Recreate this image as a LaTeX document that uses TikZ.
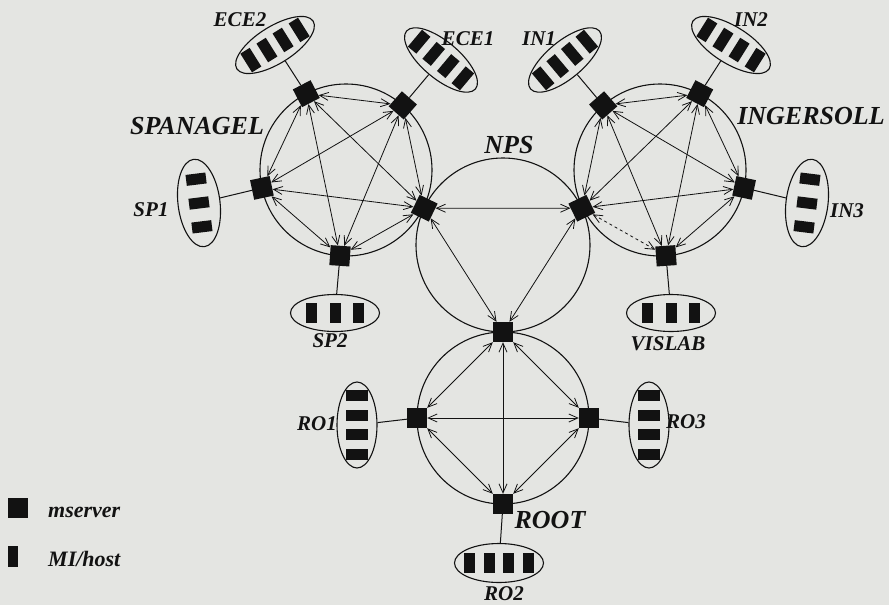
\documentclass[tikz,border=0pt]{standalone}
\usepackage{fontspec}
\setmainfont{Liberation Serif}
\usetikzlibrary{shapes.geometric,arrows.meta}
\definecolor{paper}{RGB}{228,229,226}
\definecolor{ink}{RGB}{18,18,18}
\tikzset{
  ring/.style={draw=ink, line width=1.1pt},
  mserv/.style={rectangle, fill=ink, minimum size=20pt, inner sep=0pt},
  hostring/.style={ellipse, draw=ink, line width=1.1pt, inner sep=0pt},
  hostbar/.style={rectangle, fill=ink, minimum width=10pt, minimum height=21pt, inner sep=0pt},
  link/.style={draw=ink, line width=0.8pt,
    {Straight Barb[length=9pt,width=8pt]}-{Straight Barb[length=9pt,width=8pt]}},
  tie/.style={draw=ink, line width=1pt},
  lbl/.style={font=\fontsize{21}{21}\selectfont\bfseries\itshape, text=ink, inner sep=0pt},
  biglbl/.style={font=\fontsize{26}{26}\selectfont\bfseries\itshape, text=ink, inner sep=0pt},
  leglbl/.style={font=\fontsize{22}{22}\selectfont\bfseries\itshape, text=ink, inner sep=0pt, anchor=base west},
}
% bars of a host group: node, angle, count, spacing, half bar length
\newcommand\hostbars[5]{%
  \begin{scope}[shift={(#1.center)}, rotate=#2]
    \foreach \k in {1,...,#3}
      \fill[ink] ({(\k-(#3+1)/2)*#4},0) +(-5.5pt,-#5) rectangle +(5.5pt,#5);
  \end{scope}}
\begin{document}
\begin{tikzpicture}[x=1pt, y=-1pt]
\fill[paper] (0,0) rectangle (889,605);
\useasboundingbox (0,0) rectangle (889,605);

% domain rings
\draw[ring] (346,170) circle[radius=86pt];
\draw[ring] (660,170) circle[radius=86pt];
\draw[ring] (503,245) circle[radius=87pt];
\draw[ring] (503,418) circle[radius=86pt];

% mservers of SPANAGEL
\node[mserv, rotate=27.5] (e2) at (306.3,93.7) {};
\node[mserv, rotate=-41.3] (e1) at (402.8,105.4) {};
\node[mserv, rotate=12] (sp1) at (261.9,187.9) {};
\node[mserv, rotate=-4] (sp2) at (340,255.8) {};
\node[mserv, rotate=-26] (s1) at (424.2,208.2) {};
% mservers of INGERSOLL
\node[mserv, rotate=-27.5] (in2) at (699.7,93.7) {};
\node[mserv, rotate=41.3] (in1) at (603.2,105.4) {};
\node[mserv, rotate=-12] (in3) at (744.1,187.9) {};
\node[mserv, rotate=4] (vis) at (666,255.8) {};
\node[mserv, rotate=26] (s2) at (581.8,208.2) {};
% mservers of ROOT
\node[mserv] (t) at (503,332) {};
\node[mserv] (l) at (417,418) {};
\node[mserv] (r) at (589,418) {};
\node[mserv] (b) at (503,504) {};

% host groups
\node[hostring, minimum width=90pt, minimum height=37pt, rotate=32] (hece2) at (275,45) {};
\node[hostring, minimum width=90pt, minimum height=37pt, rotate=-40] (hece1) at (441,60) {};
\node[hostring, minimum width=90pt, minimum height=37pt, rotate=40] (hin1) at (565,60) {};
\node[hostring, minimum width=90pt, minimum height=37pt, rotate=-32] (hin2) at (731,45) {};
\node[hostring, minimum width=88pt, minimum height=42pt, rotate=97] (hsp1) at (199,203) {};
\node[hostring, minimum width=88pt, minimum height=42pt, rotate=83] (hin3) at (807,203) {};
\node[hostring, minimum width=89pt, minimum height=37pt] (hsp2) at (335,313) {};
\node[hostring, minimum width=89pt, minimum height=37pt] (hvis) at (671,313) {};
\node[hostring, minimum width=86pt, minimum height=40pt, rotate=90] (hro1) at (357,425) {};
\node[hostring, minimum width=86pt, minimum height=40pt, rotate=90] (hro3) at (649,425) {};
\node[hostring, minimum width=89pt, minimum height=39pt] (hro2) at (499,563) {};

\hostbars{hece2}{32}{4}{19}{11pt}
\hostbars{hece1}{-40}{4}{19}{11pt}
\hostbars{hin1}{40}{4}{19}{11pt}
\hostbars{hin2}{-32}{4}{19}{11pt}
\hostbars{hsp1}{97}{3}{24}{10pt}
\hostbars{hin3}{83}{3}{24}{10pt}
\hostbars{hsp2}{0}{3}{23.5}{10pt}
\hostbars{hvis}{0}{3}{23.5}{10pt}
\hostbars{hro1}{90}{4}{19.5}{11pt}
\hostbars{hro3}{90}{4}{19.5}{11pt}
\hostbars{hro2}{0}{4}{19.5}{10pt}

% attachments of host groups
\draw[tie] (e2) -- (hece2);
\draw[tie] (e1) -- (hece1);
\draw[tie] (in1) -- (hin1);
\draw[tie] (in2) -- (hin2);
\draw[tie] (sp1) -- (hsp1);
\draw[tie] (in3) -- (hin3);
\draw[tie] (sp2) -- (hsp2);
\draw[tie] (vis) -- (hvis);
\draw[tie] (l) -- (hro1);
\draw[tie] (r) -- (hro3);
\draw[tie] (b) -- (hro2);

% SPANAGEL mesh
\foreach \a/\c in {e2/e1, e2/sp1, e2/sp2, e2/s1, e1/sp1, e1/sp2, e1/s1, sp1/sp2, sp1/s1, sp2/s1}
  \draw[link] (\a) -- (\c);
% INGERSOLL mesh
\foreach \a/\c in {in2/in1, in2/in3, in2/vis, in2/s2, in1/in3, in1/vis, in1/s2, in3/vis, in3/s2}
  \draw[link] (\a) -- (\c);
\draw[link, dashed] (s2) -- (vis);
% NPS mesh
\foreach \a/\c in {s1/s2, s1/t, s2/t}
  \draw[link] (\a) -- (\c);
% ROOT mesh
\foreach \a/\c in {t/l, t/r, t/b, l/r, l/b, r/b}
  \draw[link] (\a) -- (\c);

% labels
\node[biglbl] (nspan) at (197,126) {SPANAGEL};
\node[biglbl] (ning) at (811,116) {INGERSOLL};
\node[biglbl] (nnps) at (509,145) {NPS};
\node[biglbl] (nroot) at (550,520) {ROOT};
\node[lbl] (lece2) at (240,20) {ECE2};
\node[lbl] (lece1) at (468,39) {ECE1};
\node[lbl] (lin1) at (539,39) {IN1};
\node[lbl] (lin2) at (751,20) {IN2};
\node[lbl] (lsp1) at (151,210) {SP1};
\node[lbl] (lin3) at (847,211) {IN3};
\node[lbl] (lsp2) at (330,341) {SP2};
\node[lbl] (lvis) at (668,344) {VISLAB};
\node[lbl] (lro1) at (317,424) {RO1};
\node[lbl] (lro3) at (686,422) {RO3};
\node[lbl] (lro2) at (504,594) {RO2};

% legend
\node[mserv] (legsrv) at (18,508) {};
\node[hostbar] (legbar) at (13,556) {};
\node[leglbl] (legsrvtxt) at (48,517) {mserver};
\node[leglbl] (legbartxt) at (48,566) {MI/host};
\end{tikzpicture}
\end{document}
